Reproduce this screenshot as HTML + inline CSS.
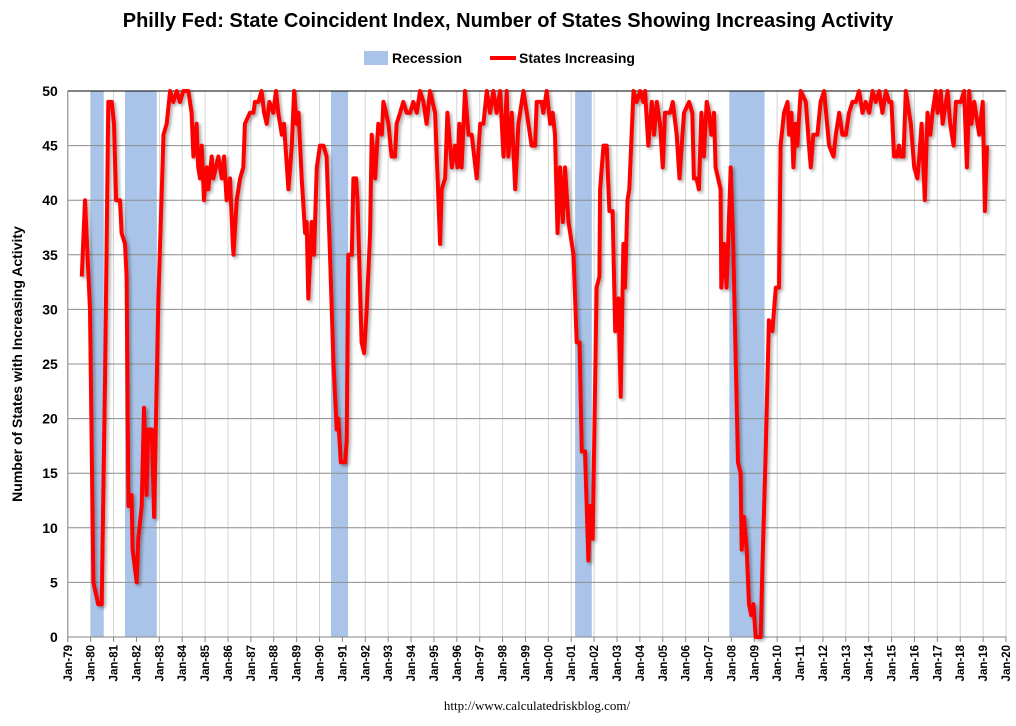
<!DOCTYPE html>
<html><head><meta charset="utf-8">
<style>
body{margin:0;background:#fff;width:1016px;height:721px;overflow:hidden;font-family:"Liberation Sans",Arial,sans-serif;}
svg text{font-family:"Liberation Sans",Arial,sans-serif;}
</style></head>
<body>
<svg id="chart" width="1016" height="721" xmlns="http://www.w3.org/2000/svg">
<defs><filter id="sh" x="-5%" y="-5%" width="110%" height="110%"><feGaussianBlur in="SourceAlpha" stdDeviation="1.5"/><feOffset dx="2" dy="2"/><feComponentTransfer><feFuncA type="linear" slope="0.35"/></feComponentTransfer><feMerge><feMergeNode/><feMergeNode in="SourceGraphic"/></feMerge></filter></defs>
<text x="508" y="27" text-anchor="middle" font-size="20" font-weight="bold" fill="#000">Philly Fed: State Coincident Index, Number of States Showing Increasing Activity</text>
<g>
<rect x="364" y="51" width="24" height="14" fill="#a9c4e8"/>
<text x="392" y="63" font-size="14" font-weight="bold">Recession</text>
<line x1="490" y1="58" x2="516" y2="58" stroke="#ff0000" stroke-width="4"/>
<text x="519" y="63" font-size="14" font-weight="bold">States Increasing</text>
</g>
<text transform="translate(22,364) rotate(-90)" text-anchor="middle" font-size="14" font-weight="bold">Number of States with Increasing Activity</text>
<text x="537" y="710" text-anchor="middle" font-size="13" style="font-family:'Liberation Serif',serif">http://www.calculatedriskblog.com/</text>
<g id="plot"></g>
</svg>
<script>
const dates=[1979.61,1979.75,1979.97,1980.12,1980.33,1980.48,1980.63,1980.77,1980.92,1981.02,1981.11,1981.28,1981.35,1981.50,1981.57,1981.65,1981.79,1981.83,1982.01,1982.08,1982.23,1982.33,1982.44,1982.52,1982.67,1982.77,1982.96,1983.18,1983.32,1983.47,1983.61,1983.76,1983.90,1984.05,1984.27,1984.41,1984.49,1984.63,1984.70,1984.78,1984.85,1984.95,1985.07,1985.14,1985.29,1985.36,1985.58,1985.73,1985.83,1985.94,1986.09,1986.21,1986.24,1986.38,1986.53,1986.67,1986.74,1986.96,1987.11,1987.18,1987.33,1987.47,1987.58,1987.69,1987.81,1987.98,1988.10,1988.20,1988.35,1988.45,1988.64,1988.79,1988.89,1989.00,1989.08,1989.22,1989.37,1989.44,1989.51,1989.66,1989.76,1989.88,1990.02,1990.17,1990.31,1990.46,1990.61,1990.68,1990.75,1990.82,1990.93,1991.12,1991.19,1991.26,1991.41,1991.48,1991.60,1991.66,1991.77,1991.84,1991.95,1992.06,1992.21,
1992.28,1992.43,1992.57,1992.72,1992.79,1992.91,1993.01,1993.15,1993.30,1993.37,1993.52,1993.66,1993.81,1993.96,1994.10,1994.25,1994.39,1994.54,1994.68,1994.83,1995.05,1995.27,1995.34,1995.49,1995.59,1995.78,1995.92,1996.03,1996.11,1996.21,1996.36,1996.51,1996.65,1996.87,1997.02,1997.16,1997.31,1997.45,1997.60,1997.74,1997.89,1998.04,1998.18,1998.25,1998.40,1998.55,1998.69,1998.91,1999.06,1999.27,1999.42,1999.49,1999.71,1999.78,1999.93,2000.08,2000.19,2000.29,2000.40,2000.51,2000.63,2000.73,2000.88,2001.10,2001.24,2001.36,2001.46,2001.60,2001.75,2001.82,2001.94,2002.11,2002.23,2002.26,2002.41,2002.55,2002.67,2002.81,2002.92,2003.06,2003.16,2003.28,2003.35,2003.46,2003.54,2003.72,2003.86,2004.01,2004.15,2004.23,2004.37,2004.52,2004.62,2004.74,2004.88,2005.00,2005.10,2005.32,2005.44,2005.61,2005.73,2005.93,
2006.15,2006.29,2006.36,2006.48,2006.58,2006.69,2006.80,2006.92,2007.02,2007.12,2007.24,2007.31,2007.53,2007.56,2007.68,2007.79,2007.97,2008.08,2008.19,2008.29,2008.40,2008.45,2008.55,2008.67,2008.77,2008.87,2008.96,2009.06,2009.28,2009.35,2009.50,2009.64,2009.79,2009.94,2010.08,2010.15,2010.30,2010.45,2010.52,2010.62,2010.71,2010.81,2010.88,2011.03,2011.25,2011.39,2011.47,2011.58,2011.76,2011.90,2012.05,2012.27,2012.46,2012.56,2012.71,2012.85,2013.00,2013.14,2013.29,2013.44,2013.58,2013.73,2013.87,2014.02,2014.17,2014.31,2014.46,2014.60,2014.75,2014.89,2014.99,2015.11,2015.23,2015.33,2015.40,2015.52,2015.62,2015.84,2015.99,2016.13,2016.21,2016.31,2016.45,2016.57,2016.69,2016.79,2016.93,2017.01,2017.15,2017.23,2017.45,2017.56,2017.71,2017.81,2018.03,2018.17,2018.29,2018.39,2018.49,2018.61,2018.83,2018.98,2019.08,2019.17];
const statesIncreasing=[33,40,30,5,3,3,24,49,49,47,40,40,37,36,33,12,13,8,5,9,12,21,13,19,19,11,31,46,47,50,49,50,49,50,50,48,44,47,43,42,45,40,43,41,44,42,44,42,44,40,42,36,35,40,42,43,47,48,48,49,49,50,48,47,49,48,50,48,46,47,41,45,50,47,48,42,37,38,31,38,35,43,45,45,44,35,25,22,19,20,16,16,18,35,35,42,42,40,32,27,26,30,37,
46,42,47,46,49,48,47,44,44,47,48,49,48,48,49,48,50,49,47,50,48,36,41,42,48,43,45,43,47,43,50,46,46,42,47,47,50,48,50,48,50,44,50,44,48,41,47,50,48,45,45,49,49,48,50,47,48,46,37,43,38,43,38,35,27,27,17,17,7,12,9,32,33,41,45,45,39,39,28,31,22,36,32,40,41,50,49,50,49,50,45,49,46,49,47,43,48,48,49,46,42,48,
49,48,42,42,41,48,44,49,48,46,48,43,41,32,36,32,43,36,25,16,15,8,11,8,3,2,3,0,0,6,17,29,28,32,32,45,48,49,46,48,43,47,45,50,49,45,43,46,46,49,50,45,44,46,48,46,46,48,49,49,50,48,49,48,50,49,50,48,50,49,49,44,44,45,44,44,50,47,43,42,44,47,40,48,46,48,50,48,50,47,50,47,45,49,49,50,43,50,47,49,46,49,39,45];
const recessionStarts=[1980.0,1981.5,1990.5,2001.17,2007.91];
const recessionEnds=[1980.57,1982.89,1991.25,2001.9,2009.45];
const yTicks=[0,5,10,15,20,25,30,35,40,45,50];
const xTickYears=[];for(let y=1979;y<=2020;y++)xTickYears.push(y);

const NS='http://www.w3.org/2000/svg';
const L=67.8,R=1006,T=91,B=637,Y0=1979,Y1=2020;
const xs=v=>L+(v-Y0)*(R-L)/(Y1-Y0);
const ys=v=>B-v*(B-T)/50;
const g=document.getElementById('plot');
function mk(tag,attrs,parent){const e=document.createElementNS(NS,tag);for(const k in attrs)e.setAttribute(k,attrs[k]);(parent||g).appendChild(e);return e;}

xTickYears.forEach(yr=>{
  const e=mk('line',{x1:xs(yr),x2:xs(yr),y1:T,y2:B,stroke:'#d4d4d4','stroke-width':1});
  
  
});
recessionStarts.forEach((s,i)=>{
  const e=mk('rect',{x:xs(s),y:T,width:xs(recessionEnds[i])-xs(s),height:B-T,fill:'#a9c4e8'});
  
  
});
yTicks.forEach(v=>{
  const e=mk('line',{x1:L,x2:R,y1:ys(v),y2:ys(v),stroke:v===50?'#000':'#8c8c8c','stroke-width':1});
  
  
  const t=mk('text',{x:L-10,y:ys(v)+5,'text-anchor':'end','font-size':14,'font-weight':'bold'});
  t.textContent=v;
  
  
});
const ax=mk('line',{x1:L,x2:L,y1:T,y2:B+5,stroke:'#868686','stroke-width':1});


const rx=mk('line',{x1:R,x2:R,y1:T,y2:B,stroke:'#d4d4d4','stroke-width':1});


const xa=mk('line',{x1:L,x2:R,y1:B,y2:B,stroke:'#868686','stroke-width':1});


xTickYears.forEach(yr=>{
  const tk=mk('line',{x1:xs(yr),x2:xs(yr),y1:B,y2:B+5,stroke:'#868686'});
  
  
  const lab='Jan-'+String(yr%100).padStart(2,'0');
  const t=mk('text',{transform:`translate(${xs(yr)+4},${B+8}) rotate(-90)`,'text-anchor':'end','font-size':11.5,'font-weight':'bold'});
  t.textContent=lab;
  
  
});
let d='';
dates.forEach((dt,i)=>{d+=(i?'L':'M')+xs(dt).toFixed(1)+' '+ys(statesIncreasing[i]).toFixed(1);});
const p=mk('path',{d:d,fill:'none',stroke:'#ff0000','stroke-width':4,'stroke-linejoin':'round',filter:'url(#sh)'});


</script>
</body></html>
